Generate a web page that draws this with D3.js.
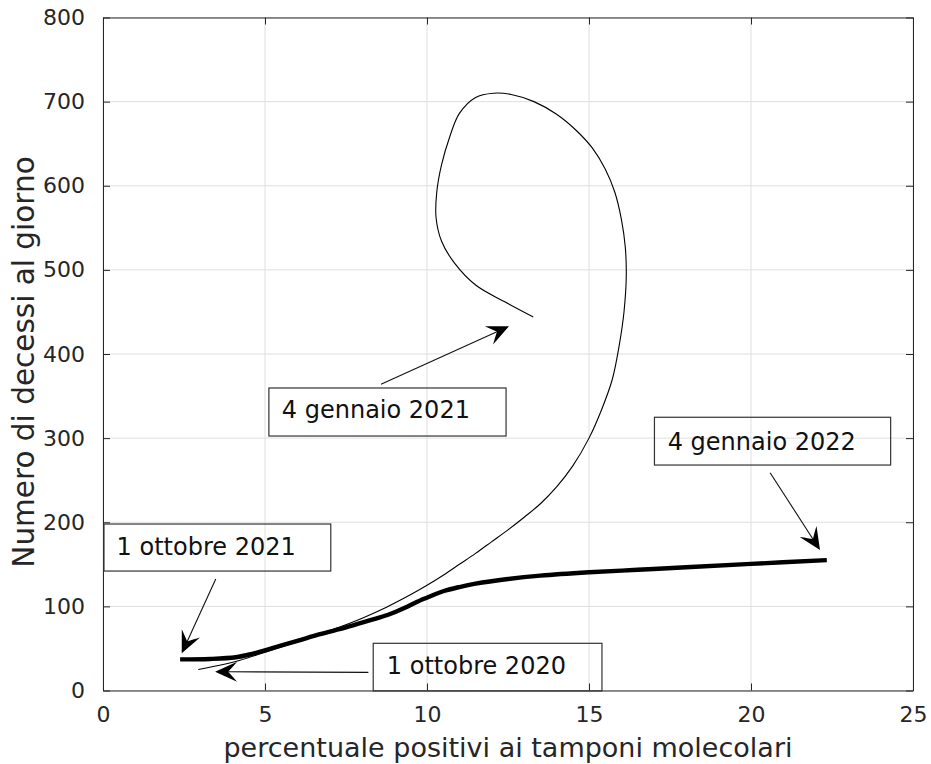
<!DOCTYPE html>
<html>
<head>
<meta charset="utf-8">
<script src="https://cdn.jsdelivr.net/npm/d3@7"></script>
<style>
  html, body { margin: 0; padding: 0; background: #fff; }
  svg { display: block; font-family: "DejaVu Sans", sans-serif; }
</style>
</head>
<body>
<svg id="chart" width="931" height="764"></svg>
<script>
// Percentuale positivi (x) vs decessi giornalieri (y)

// Ottobre 2020 -> gennaio 2021 (linea sottile)
const wave2020X = [2.94, 3.6, 4.23, 5.2, 6.2, 7.2, 8.0, 8.75, 9.5, 10.0, 10.5, 11.0, 11.5, 12.0, 12.5, 13.0, 13.5, 14.0, 14.5, 15.0, 15.4, 15.72, 15.94, 16.08, 16.15, 16.12, 16.0, 15.8, 15.5, 15.1, 14.6, 14.0, 13.3, 12.6, 12.05, 11.5, 11.0, 10.7, 10.45, 10.3, 10.28, 10.45, 10.85, 11.5, 12.4, 13.28];
const wave2020Y = [25, 30, 36, 48, 61, 74, 86, 99, 114, 125, 137, 150, 163, 177, 191, 206, 222, 242, 267, 300, 335, 370, 412, 450, 492, 527, 560, 592, 620, 645, 666, 685, 700, 708.5, 710, 705, 686, 658, 625, 592, 562, 534, 508, 482, 462, 444];

// Ottobre 2021 -> gennaio 2022 (linea spessa)
const wave2021X = [2.38, 3.3, 4.1, 4.6, 5.2, 6.0, 6.7, 7.5, 8.2, 8.8, 9.3, 9.7, 10.1, 10.5, 11.0, 11.5, 12.5, 13.5, 15.0, 16.5, 18.0, 20.0, 22.34];
const wave2021Y = [37, 37.5, 39.5, 43.5, 50, 59, 67, 75, 83, 90, 98, 105.5, 112, 118, 123, 127, 132.5, 136.5, 140.5, 143.5, 146.5, 150.5, 155];

const xTicks = [0, 5, 10, 15, 20, 25];
const yTicks = [0, 100, 200, 300, 400, 500, 600, 700, 800];

const xLabel = "percentuale positivi ai tamponi molecolari";
const yLabel = "Numero di decessi al giorno";

// Annotation texts and the points they refer to (data units)
const noteTexts = ["4 gennaio 2021", "4 gennaio 2022", "1 ottobre 2021", "1 ottobre 2020"];
const noteTipX = [12.53, 22.13, 2.43, 3.46];
const noteTipY = [433, 167, 44.2, 22.3];

// ---- layout ----
const margin = { left: 103, right: 18, top: 17.5, bottom: 73.5 };
const W = 931, H = 764;
const pw = W - margin.left - margin.right;
const ph = H - margin.top - margin.bottom;

const svg = d3.select("#chart");
const g = svg.append("g").attr("transform", `translate(${margin.left},${margin.top})`);

const x = d3.scaleLinear().domain([0, 25]).range([0, pw]);
const y = d3.scaleLinear().domain([0, 800]).range([ph, 0]);

// grid
g.append("g").selectAll("line").data(xTicks).join("line")
  .attr("x1", d => x(d)).attr("x2", d => x(d))
  .attr("y1", 0).attr("y2", ph)
  .attr("stroke", "#dfdfdf").attr("stroke-width", 1);
g.append("g").selectAll("line").data(yTicks).join("line")
  .attr("x1", 0).attr("x2", pw)
  .attr("y1", d => y(d)).attr("y2", d => y(d))
  .attr("stroke", "#dfdfdf").attr("stroke-width", 1);

// axes with inward ticks on all four sides
const tickLen = 7;
function styleAxis(sel) {
  sel.select(".domain").attr("stroke", "#262626");
  sel.selectAll(".tick line").attr("stroke", "#262626");
  sel.selectAll(".tick text").attr("fill", "#262626")
    .attr("font-size", 22).attr("font-family", "DejaVu Sans");
}
const xAxis = g.append("g").attr("transform", `translate(0,${ph})`)
  .call(d3.axisBottom(x).tickValues(xTicks).tickFormat(d3.format("d"))
    .tickSizeInner(-tickLen).tickSizeOuter(0).tickPadding(16));
styleAxis(xAxis);
const xAxisTop = g.append("g")
  .call(d3.axisTop(x).tickValues(xTicks).tickFormat("")
    .tickSizeInner(-tickLen).tickSizeOuter(0));
styleAxis(xAxisTop);
const yAxis = g.append("g")
  .call(d3.axisLeft(y).tickValues(yTicks).tickFormat(d3.format("d"))
    .tickSizeInner(-tickLen).tickSizeOuter(0).tickPadding(18));
styleAxis(yAxis);
const yAxisRight = g.append("g").attr("transform", `translate(${pw},0)`)
  .call(d3.axisRight(y).tickValues(yTicks).tickFormat("")
    .tickSizeInner(-tickLen).tickSizeOuter(0));
styleAxis(yAxisRight);

// curves
const line = d3.line()
  .x(d => x(d[0])).y(d => y(d[1]))
  .curve(d3.curveCatmullRom.alpha(0.5));

const pts2020 = wave2020X.map((v, i) => [v, wave2020Y[i]]);
const pts2021 = wave2021X.map((v, i) => [v, wave2021Y[i]]);

g.append("path").datum(pts2020).attr("d", line)
  .attr("fill", "none").attr("stroke", "#000").attr("stroke-width", 1.1)
  .attr("stroke-linejoin", "round");
g.append("path").datum(pts2021).attr("d", line)
  .attr("fill", "none").attr("stroke", "#000").attr("stroke-width", 4.4)
  .attr("stroke-linejoin", "round").attr("stroke-linecap", "butt");

// axis labels
svg.append("text")
  .attr("x", margin.left + pw / 2).attr("y", 757)
  .attr("text-anchor", "middle").attr("font-size", 27).attr("fill", "#262626")
  .text(xLabel);
svg.append("text")
  .attr("transform", `translate(34,362) rotate(-90)`)
  .attr("text-anchor", "middle").attr("font-size", 29.5).attr("fill", "#262626")
  .text(yLabel);

// annotations: text box + arrow (box corners, text origin and arrow tail in data units)
const noteBox = [
  [5.12, 359.6, 12.44, 302.5],
  [17.02, 324.8, 24.31, 268.0],
  [0.03, 197.9, 7.03, 142.0],
  [8.34, 56.1, 15.40, -0.5]
];
const noteTextPos = [[5.52, 324], [17.43, 285.9], [0.42, 161.1], [8.76, 19.6]];
const noteTail = [[8.58, 364], [20.59, 258.9], [3.48, 132.5], [8.19, 21.6]];

const ann = g.append("g");
noteTexts.forEach((t, i) => {
  const b = noteBox[i];
  ann.append("rect")
    .attr("x", x(b[0])).attr("y", y(b[1]))
    .attr("width", x(b[2]) - x(b[0])).attr("height", y(b[3]) - y(b[1]))
    .attr("fill", "none").attr("stroke", "#333").attr("stroke-width", 1.2);
  ann.append("text")
    .attr("x", x(noteTextPos[i][0])).attr("y", y(noteTextPos[i][1]))
    .attr("font-size", 24).attr("fill", "#111").text(t);

  // arrow
  const x0 = x(noteTail[i][0]), y0 = y(noteTail[i][1]);
  const x1 = x(noteTipX[i]), y1 = y(noteTipY[i]);
  const ang = Math.atan2(y1 - y0, x1 - x0);
  const len = Math.hypot(x1 - x0, y1 - y0);
  const ag = ann.append("g")
    .attr("transform", `translate(${x0},${y0}) rotate(${ang * 180 / Math.PI})`);
  ag.append("line").attr("x1", 0).attr("y1", 0).attr("x2", len - 12).attr("y2", 0)
    .attr("stroke", "#111").attr("stroke-width", 1.1);
  ag.append("path")
    .attr("d", `M${len},0 L${len - 22},-10 Q${len - 16},-3 ${len - 13},0 Q${len - 16},3 ${len - 22},10 Z`)
    .attr("fill", "#000");
});
</script>
</body>
</html>
